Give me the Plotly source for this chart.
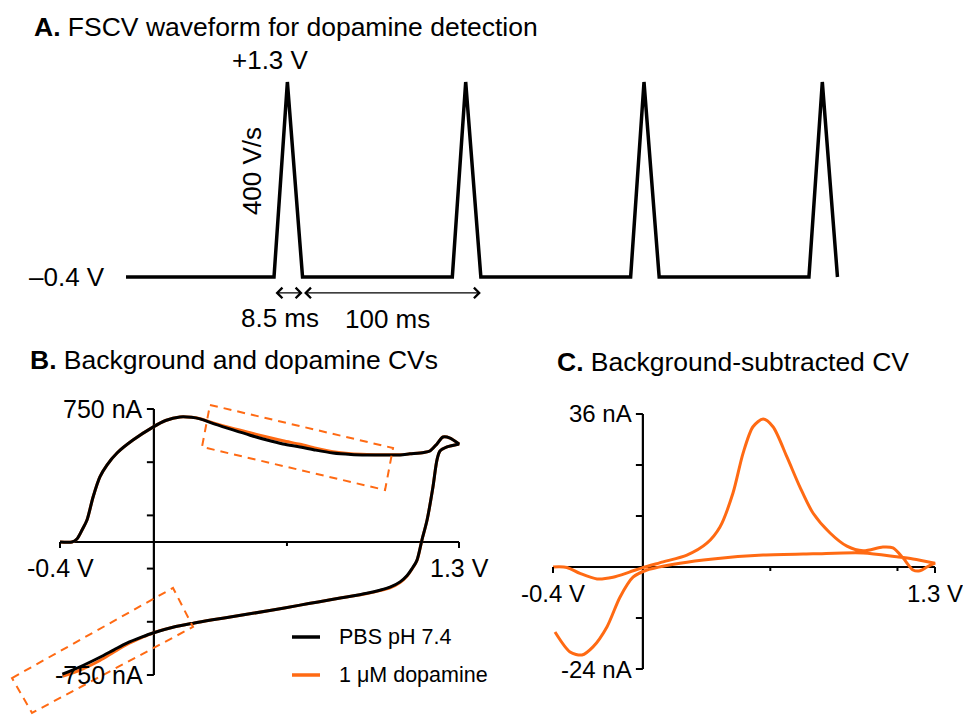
import plotly.graph_objects as go

# ---------------- Data ----------------
# Panel A: schematic FSCV waveform (time in schematic ms, potential in V)
wave_t = [0, 83, 90.5, 99, 183, 190.5, 199, 283, 290.5, 299, 383, 390.5, 399]
wave_v = [-0.4, -0.4, 1.3, -0.4, -0.4, 1.3, -0.4, -0.4, 1.3, -0.4, -0.4, 1.3, -0.4]

# Panel B: background (PBS) and dopamine CVs, potential (V) / current (nA)
b_fwd_v = [-0.4, -0.349, -0.328, -0.306, -0.285, -0.259, -0.23, -0.2, -0.157, -0.089, -0.004,
           0.05, 0.111, 0.16, 0.197, 0.26, 0.337, 0.41, 0.482, 0.55, 0.623, 0.69, 0.763, 0.84,
           0.908, 0.98, 1.049, 1.091, 1.15, 1.176, 1.206, 1.232, 1.262, 1.3]
b_fwd_pbs = [0, 0, 17, 68, 124, 254, 367, 434, 502, 575, 648,
             685, 705, 703, 694, 665, 632, 602, 575, 553, 536, 518, 502, 494,
             491, 490, 491, 497, 505, 513, 553, 592, 586, 553]
b_fwd_da = [0, 0, 17, 68, 124, 254, 367, 434, 502, 575, 648,
            685, 705, 703, 695, 668, 640, 616, 592, 571, 551, 529, 509, 498,
            494, 492, 492, 497, 505, 513, 553, 592, 586, 553]
b_rev_v = [1.3, 1.249, 1.219, 1.206, 1.189, 1.164, 1.142, 1.121, 1.1, 1.078, 1.049, 1.006,
           0.963, 0.908, 0.8, 0.7, 0.623, 0.5, 0.338, 0.25, 0.168, 0.081, -0.004, -0.05,
           -0.115, -0.17, -0.23, -0.3, -0.357, -0.39]
b_rev_pbs = [553, 536, 513, 462, 310, 124, 11, -102, -150, -190, -225, -255,
             -272, -289, -315, -338, -356, -385, -420, -439, -458, -481, -513, -535,
             -570, -608, -650, -695, -728, -745]
b_rev_da = [553, 536, 513, 462, 310, 124, 11, -104, -152, -193, -228, -258,
            -274, -290, -315, -338, -356, -385, -420, -439, -458, -481, -513, -538,
            -578, -620, -668, -714, -744, -757]

# Panel C: background-subtracted CV, potential (V) / current (nA)
c_fwd_v = [-0.4, -0.338, -0.28, -0.204, -0.133, -0.06, -0.004, 0.09, 0.196, 0.285, 0.343,
           0.401, 0.446, 0.49, 0.535, 0.579, 0.641, 0.699, 0.757, 0.833, 0.908, 0.98, 1.068,
           1.113, 1.158, 1.202, 1.233, 1.264, 1.3]
c_fwd_i = [0, -0.1, -1.5, -2.8, -2.4, -1.2, -0.2, 1.2, 2.8, 5.6, 9.4,
           17.4, 26.8, 33.0, 34.8, 33.0, 25.9, 18.8, 12.7, 8.0, 4.9, 3.8, 4.7,
           4.5, 2.1, -0.7, -0.9, 0.0, 0.9]
c_rev_v = [1.3, 1.202, 1.13, 0.98, 0.757, 0.535, 0.312, 0.165, 0.018, -0.044, -0.102,
           -0.16, -0.222, -0.271, -0.324, -0.391]
c_rev_i = [0.9, 1.9, 2.4, 3.3, 3.1, 2.8, 1.9, 0.9, -0.7, -2.4, -7.1,
           -14.1, -18.8, -20.7, -20.0, -15.3]

# Axis ticks / labels
b_xticks = [-0.4, 0.567, 1.3]
b_yticks = [-750, -450, -150, 150, 450, 750]
b_xlabels = {-0.4: "-0.4 V", 1.3: "1.3 V"}
b_ylabels = {750: "750 nA", -750: "-750 nA"}
c_xticks = [-0.4, 0.567, 1.133, 1.3]
c_yticks = [-24, -12, 12, 24, 36]
c_xlabels = {-0.4: "-0.4 V", 1.3: "1.3 V"}
c_ylabels = {36: "36 nA", -24: "-24 nA"}

# Highlight boxes in panel B (corners, V / nA)
box_upper = [(0.239, 773), (1.019, 530), (0.985, 293), (0.205, 536)]
box_lower = [(-0.6045, -767), (0.0815, -259), (0.1667, -479), (-0.5193, -964)]

series_names = ["PBS pH 7.4", "1 μM dopamine"]

# ---------------- Style ----------------
W, H = 963, 715
FONT = "Liberation Sans, Arial, sans-serif"
BLACK = "#000000"
ORANGE = "#FF6A13"


def px_x(p):
    return p / W


def px_y(p):
    return 1 - p / H


fig = go.Figure()

# Panel A
fig.add_trace(go.Scatter(x=wave_t, y=wave_v, mode="lines",
                         line=dict(color=BLACK, width=3.5), xaxis="x", yaxis="y",
                         showlegend=False, hoverinfo="skip"))

# Panel B (orange below black)
fig.add_trace(go.Scatter(x=b_fwd_v + b_rev_v, y=b_fwd_da + b_rev_da, mode="lines",
                         line=dict(color=ORANGE, width=3, shape="spline", smoothing=0.8),
                         xaxis="x2", yaxis="y2", name=series_names[1], showlegend=False))
fig.add_trace(go.Scatter(x=b_fwd_v + b_rev_v, y=b_fwd_pbs + b_rev_pbs, mode="lines",
                         line=dict(color=BLACK, width=3, shape="spline", smoothing=0.8),
                         xaxis="x2", yaxis="y2", name=series_names[0], showlegend=False))

# Panel C
fig.add_trace(go.Scatter(x=c_fwd_v + c_rev_v, y=c_fwd_i + c_rev_i, mode="lines",
                         line=dict(color=ORANGE, width=3, shape="spline", smoothing=0.8),
                         xaxis="x3", yaxis="y3", showlegend=False))

shapes = []
annotations = []


def add_axes(xr, yr, xticks, yticks, xlabels, ylabels, xmin, xmax, ymin, ymax, fsize):
    # axis lines crossing at origin
    shapes.append(dict(type="line", xref=xr, yref=yr, x0=xmin, x1=xmax, y0=0, y1=0,
                       line=dict(color=BLACK, width=2.2), layer="below"))
    shapes.append(dict(type="line", xref=xr, yref=yr, x0=0, x1=0, y0=ymin, y1=ymax,
                       line=dict(color=BLACK, width=2.2), layer="below"))
    for v in xticks:
        ln = 6 if v in (xmin, xmax) else 4
        shapes.append(dict(type="line", xref=xr, yref=yr, x0=v, x1=v,
                           ysizemode="pixel", yanchor=0, y0=0, y1=-ln,
                           line=dict(color=BLACK, width=2)))
    for v in yticks:
        shapes.append(dict(type="line", xref=xr, yref=yr, y0=v, y1=v,
                           xsizemode="pixel", xanchor=0, x0=0, x1=-7,
                           line=dict(color=BLACK, width=2)))
    for v, t in xlabels.items():
        annotations.append(dict(x=v, y=0, xref=xr, yref=yr, text=t, showarrow=False,
                                xanchor="center", yanchor="middle", yshift=-26,
                                font=dict(size=fsize, color=BLACK, family=FONT)))
    for v, t in ylabels.items():
        annotations.append(dict(x=0, y=v, xref=xr, yref=yr, text=t, showarrow=False,
                                xanchor="right", yanchor="middle", xshift=-9,
                                font=dict(size=fsize, color=BLACK, family=FONT)))


add_axes("x2", "y2", b_xticks, b_yticks, b_xlabels, b_ylabels, -0.4, 1.3, -750, 750, 25)
add_axes("x3", "y3", c_xticks, c_yticks, c_xlabels, c_ylabels, -0.4, 1.3, -24, 36, 24)


def box_path(corners):
    p = "M %g,%g" % corners[0]
    for c in corners[1:]:
        p += " L %g,%g" % c
    return p + " Z"


for bx in (box_upper, box_lower):
    shapes.append(dict(type="path", xref="x2", yref="y2", path=box_path(bx),
                       line=dict(color=ORANGE, width=2, dash="8px,6px")))

# Legend (manual)
for i, (col, yy) in enumerate([(BLACK, 637), (ORANGE, 675)]):
    shapes.append(dict(type="line", xref="paper", yref="paper",
                       x0=px_x(292), x1=px_x(320), y0=px_y(yy), y1=px_y(yy),
                       line=dict(color=col, width=3.5)))
    annotations.append(dict(x=px_x(337), y=px_y(yy), xref="paper", yref="paper",
                            text=series_names[i], showarrow=False, xanchor="left",
                            yanchor="middle", font=dict(size=21.5, color=BLACK, family=FONT)))

# Panel titles
titles = [("<b>A.</b> FSCV waveform for dopamine detection", 32, 27),
          ("<b>B.</b> Background and dopamine CVs", 28, 360),
          ("<b>C.</b> Background-subtracted CV", 555, 362)]
for t, x, y in titles:
    annotations.append(dict(x=px_x(x), y=px_y(y), xref="paper", yref="paper", text=t,
                            showarrow=False, xanchor="left", yanchor="middle",
                            font=dict(size=26.5, color=BLACK, family=FONT)))

# Panel A labels
fa = dict(size=26, color=BLACK, family=FONT)
annotations += [
    dict(x=81.3, y=1.492, xref="x", yref="y", text="+1.3 V", showarrow=False,
         xanchor="center", yanchor="middle", font=fa),
    dict(x=-10.7, y=-0.4, xref="x", yref="y", text="–0.4 V", showarrow=False,
         xanchor="right", yanchor="middle", font=fa),
    dict(x=70.7, y=0.524, xref="x", yref="y", text="400 V/s", showarrow=False,
         textangle=-90, xanchor="center", yanchor="middle", font=fa),
    dict(x=86.4, y=-0.757, xref="x", yref="y", text="8.5 ms", showarrow=False,
         xanchor="center", yanchor="middle", font=fa),
    dict(x=146.4, y=-0.766, xref="x", yref="y", text="100 ms", showarrow=False,
         xanchor="center", yanchor="middle", font=fa),
    # arrows
    dict(x=99, y=-0.539, ax=83, ay=-0.539, xref="x", yref="y", axref="x", ayref="y",
         text="", showarrow=True, arrowhead=4, startarrowhead=4, arrowside="end+start",
         arrowwidth=1.2, arrowsize=1.7, startarrowsize=1.7, arrowcolor=BLACK),
    dict(x=199, y=-0.539, ax=99, ay=-0.539, xref="x", yref="y", axref="x", ayref="y",
         text="", showarrow=True, arrowhead=4, startarrowhead=4, arrowside="end+start",
         arrowwidth=1.2, arrowsize=1.7, startarrowsize=1.7, arrowcolor=BLACK),
]

hidden = dict(visible=False, showgrid=False, zeroline=False, fixedrange=True)
fig.update_layout(
    width=W, height=H,
    margin=dict(l=0, r=0, t=0, b=0),
    paper_bgcolor="white", plot_bgcolor="rgba(0,0,0,0)",
    showlegend=False,
    xaxis=dict(domain=[0, 1], range=[-70.67, 469.4], **hidden),
    yaxis=dict(domain=[px_y(340), px_y(40)], range=[-0.9492, 1.6662], **hidden),
    xaxis2=dict(domain=[0, px_x(480)], range=[-0.65564, 1.38947], anchor="y2", **hidden),
    yaxis2=dict(domain=[0, px_y(385)], range=[-975.6, 885.3], anchor="x2", **hidden),
    xaxis3=dict(domain=[px_x(490), 1], range=[-0.68037, 1.42461], anchor="y3", **hidden),
    yaxis3=dict(domain=[0, px_y(385)], range=[-34.82, 42.82], anchor="x3", **hidden),
    shapes=shapes,
    annotations=annotations,
    font=dict(family=FONT, color=BLACK),
)

fig.write_html("out.html")
